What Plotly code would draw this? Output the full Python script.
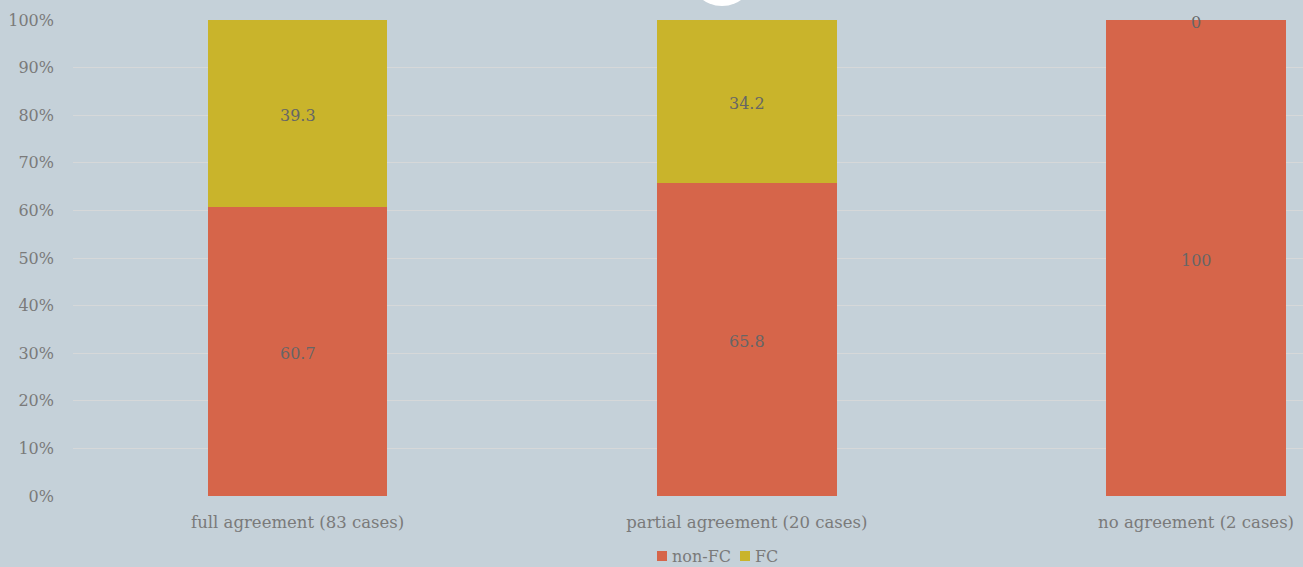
import plotly.graph_objects as go

# Agreement categories and share of each outcome (percent)
categories = ["full agreement (83 cases)", "partial agreement (20 cases)", "no agreement (2 cases)"]
non_fc = [60.7, 65.8, 100]
fc = [39.3, 34.2, 0]
tick_values = [0, 10, 20, 30, 40, 50, 60, 70, 80, 90, 100]
tick_labels = ["0%", "10%", "20%", "30%", "40%", "50%", "60%", "70%", "80%", "90%", "100%"]

RED = "#d6654a"
GOLD = "#c9b42b"
BG = "#c5d1d9"
GRID = "#d6d8d9"
TEXT = "#7a7a7a"
FONT = "Georgia, 'DejaVu Serif', serif"

W, H = 1303, 567
ML, MR, MT, MB = 73, 0, 20, 71
PW, PH = W - ML - MR, H - MT - MB


def px_x(x):
    """Page pixel column -> paper x."""
    return (x - ML) / PW


def px_y(y):
    """Page pixel row -> paper y."""
    return (H - MB - y) / PH


fig = go.Figure()
fig.add_trace(go.Bar(x=categories, y=non_fc, name="non-FC", marker=dict(color=RED, line_width=0),
                     width=0.4, hoverinfo="skip"))
fig.add_trace(go.Bar(x=categories, y=fc, name="FC", marker=dict(color=GOLD, line_width=0),
                     width=0.4, hoverinfo="skip"))

# Segment value labels at the middle of each stacked segment
label_x = categories + categories
label_y = [v / 2 for v in non_fc] + [n + f / 2 for n, f in zip(non_fc, fc)]
label_t = [f"{v:g}" for v in non_fc] + [f"{v:g}" for v in fc]
annotations = [
    dict(x=x, y=y, text=t, xref="x", yref="y", showarrow=False, yshift=-2,
         font=dict(family=FONT, size=16, color="#666666"))
    for x, y, t in zip(label_x, label_y, label_t)
]

# Compact legend below the axis: small square swatch followed by the series name
shapes = []
legend_row = 556
swatch_left = [657, 740]
for trace, left in zip(fig.data, swatch_left):
    shapes.append(dict(type="rect", xref="paper", yref="paper",
                       x0=px_x(left), x1=px_x(left + 10),
                       y0=px_y(legend_row + 5), y1=px_y(legend_row - 5),
                       fillcolor=trace.marker.color, line_width=0))
    annotations.append(dict(x=px_x(left + 13), y=px_y(legend_row), xref="paper", yref="paper",
                            text=trace.name, showarrow=False, xanchor="left", yanchor="middle",
                            font=dict(family=FONT, size=16, color=TEXT)))

# White disc peeking in from the top edge
shapes.append(dict(type="circle", xref="paper", yref="paper",
                   x0=px_x(689), x1=px_x(755), y0=px_y(6), y1=px_y(-60),
                   fillcolor="white", line_width=0, layer="above"))

fig.update_layout(
    barmode="stack",
    width=W, height=H,
    margin=dict(l=ML, r=MR, t=MT, b=MB, autoexpand=False),
    paper_bgcolor=BG, plot_bgcolor=BG,
    font=dict(family=FONT, size=16, color=TEXT),
    showlegend=False,
    xaxis=dict(range=[-0.5, 2.238], showgrid=False, zeroline=False, showline=False,
               tickfont=dict(size=16.5, color=TEXT), ticks="", ticklabelstandoff=14,
               fixedrange=True),
    yaxis=dict(range=[0, 100], tickvals=tick_values, ticktext=tick_labels, showgrid=True,
               gridcolor=GRID, gridwidth=1, zeroline=False, showline=False, ticks="",
               ticklabelstandoff=18, tickfont=dict(size=16, color=TEXT)),
    annotations=annotations,
    shapes=shapes,
)

fig.write_html("out.html")
